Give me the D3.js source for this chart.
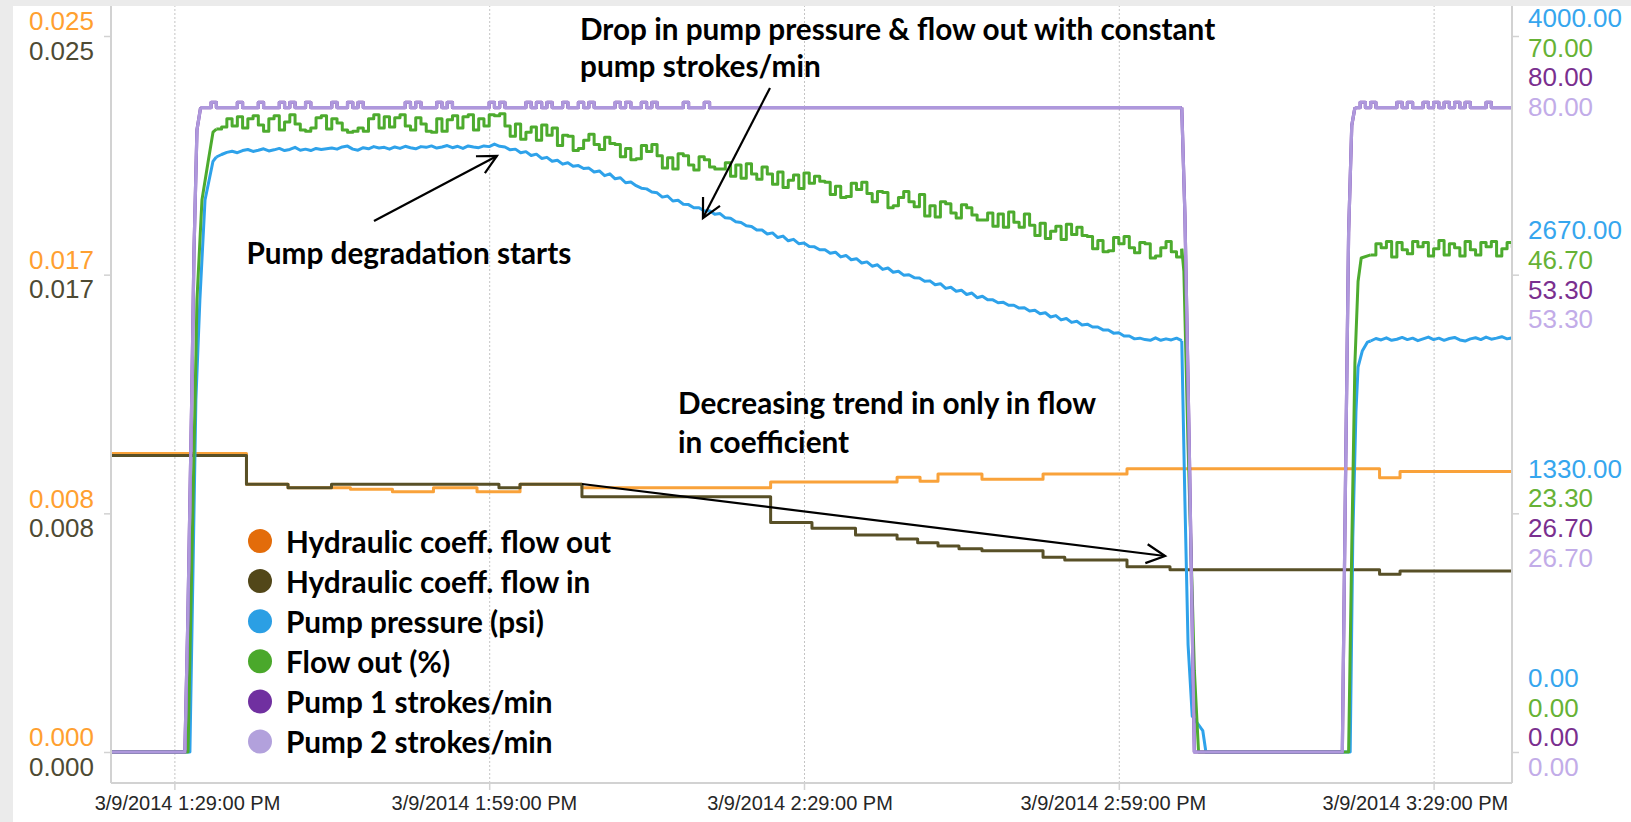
<!DOCTYPE html>
<html><head><meta charset="utf-8">
<script src="https://cdn.jsdelivr.net/npm/d3@7"></script>
<style>
html,body{margin:0;padding:0;background:#ebebeb;}
svg{display:block;}
</style></head>
<body>
<svg id="chart" width="1631" height="822"></svg>
<script>
// ================= DATA =================
// time is expressed in minutes after 3/9/2014 1:00:00 PM
const baseDate = new Date(2014, 2, 9, 13, 0, 0);
const xDomainMinutes = [22.96, 156.47];
const xTickMinutes = [29, 59, 89, 119, 149];
const SAMPLE_STEP = 0.5; // minutes between samples of the "run" arrays

// axis ticks
const coefTicks = [0, 0.008333, 0.016667, 0.025];
const coefTickLabels = ["0.000", "0.008", "0.017", "0.025"];
const pressureTicks = [0, 1333.33, 2666.67, 4000];
const pressureTickLabels = ["0.00", "1330.00", "2670.00", "4000.00"];
const flowTicks = [0, 23.33, 46.67, 70];
const flowTickLabels = ["0.00", "23.30", "46.70", "70.00"];
const strokeTicks = [0, 26.67, 53.33, 80];
const strokeTickLabels = ["0.00", "26.70", "53.30", "80.00"];

// Hydraulic coefficient steps [minute, value]
const coeffOutSteps = [[22.96,0.01042],[35.87,0.00935],[39.83,0.00923],[45.78,0.00917],[49.78,0.00909],[53.69,0.00923],[57.84,0.00909],[61.94,0.00935],[67.84,0.00923],[85.82,0.00943],[97.87,0.00959],[100.06,0.00945],[101.77,0.00971],[105.96,0.00952],[111.78,0.00971],[119.78,0.00989],[143.85,0.00958],[145.80,0.00979],[156.47,0.00979]];
const coeffInSteps = [[22.96,0.01035],[35.87,0.00935],[39.83,0.00923],[43.97,0.00935],[59.93,0.00923],[61.94,0.00935],[67.84,0.00891],[85.82,0.00801],[89.76,0.00781],[93.91,0.00758],[97.87,0.00744],[99.83,0.00731],[101.77,0.00719],[103.77,0.00710],[105.96,0.00703],[111.78,0.00680],[113.85,0.00670],[119.78,0.00647],[123.88,0.00636],[143.85,0.00621],[145.80,0.00632],[156.47,0.00632]];

// Pump pressure (psi)
const pressureRise1 = [[22.96,0],[30.48,0],[31.05,1967],[31.43,2525],[31.92,3084],[32.68,3300]];
const pressureRun1Start = 33.0;
const pressureRun1 = [
3324,3338,3350,3356,3348,3360,3366,3355,3362,3370,
3358,3364,3372,3360,3366,3378,3362,3368,3360,3372,
3366,3370,3374,3368,3380,3385,3368,3362,3376,3370,
3382,3374,3378,3368,3380,3372,3384,3376,3370,3382,
3378,3386,3374,3380,3388,3376,3384,3372,3386,3380,
3376,3386,3382,3396,3384,3380,3364,3368,3348,3354,
3332,3340,3316,3322,3300,3306,3284,3292,3272,3276,
3260,3262,3240,3246,3220,3230,3202,3208,3180,3184,
3164,3150,3146,3128,3124,3100,3106,3078,3082,3060,
3058,3040,3040,3022,3024,3004,3008,2984,2982,2962,
2958,2940,2936,2916,2916,2894,2900,2874,2882,2856,
2864,2840,2844,2824,2822,2806,2806,2786,2792,2766,
2774,2750,2756,2732,2738,2714,2722,2696,2704,2680,
2686,2664,2666,2650,2648,2630,2632,2610,2616,2590,
2596,2574,2580,2556,2564,2538,2546,2526,2526,2510,
2512,2496,2496,2480,2482,2464,2468,2448,2454,2430,
2438,2414,2422,2400,2406,2386,2390,2374,2374,2358,
2358,2340,2342,2324,2324,2308,2312,2304,2300,2314,
2300,2308,2302,2312,2298];
const pressureFall = [[125.3,1400],[125.6,600],[126.0,200],[126.5,160],[127.0,120],[127.3,0],[141.05,0],[141.3,1200],[141.6,1900],[141.8,2150],[142.2,2240],[142.7,2290]];
const pressureRun2Start = 143.0;
const pressureRun2 = [2296,2310,2302,2314,2300,2306,2316,2304,2312,2298,
2308,2318,2304,2312,2300,2310,2316,2302,2296,2308,
2314,2304,2318,2306,2312,2320,2308,2314];

// Flow out (%)
const flowRise1 = [[22.96,0],[30.30,0],[30.97,34.4],[31.15,44.2],[31.63,54.0],[32.2,57.6],[32.68,60.6]];
const flowRun1Start = 33.0;
const flowRun1 = [
60.9,61.1,61.9,61.2,62.1,61.0,61.9,62.2,61.3,60.7,
61.9,62.2,60.8,61.6,62.3,61.4,60.8,60.7,61.0,62.0,
62.2,60.9,61.9,61.5,60.8,60.6,60.7,61.0,60.7,61.9,
62.3,61.0,62.1,61.1,62.0,62.3,61.2,60.8,62.0,61.4,
60.7,60.6,61.9,60.7,61.8,62.2,61.0,62.1,62.3,60.8,
61.9,61.2,62.3,62.2,62.4,
61.2,60.2,61.4,59.9,60.6,61.1,59.8,61.3,60.3,61.0,
59.3,60.3,60.2,58.8,59.0,59.8,60.4,59.4,58.9,60.1,
59.5,59.4,58.2,59.0,57.9,58.0,59.3,58.7,59.4,58.3,
57.1,58.1,57.0,58.5,58.3,57.4,56.9,58.2,57.9,57.2,
57.0,57.0,57.6,56.3,57.4,56.1,57.5,56.5,56.0,57.2,
56.5,55.5,56.7,55.2,55.9,56.4,55.1,56.6,55.6,56.3,
55.8,55.7,54.5,55.3,54.2,54.3,55.6,55.0,55.7,54.6,
53.8,54.8,54.7,53.2,53.4,54.2,54.8,53.8,53.3,54.5,
52.4,53.4,52.3,53.8,53.6,52.7,52.2,53.5,53.2,52.5,
52.0,52.0,52.7,51.4,52.6,51.3,52.8,51.8,51.3,52.6,
51.5,50.5,51.7,50.2,50.9,51.4,50.1,51.6,50.6,51.3,
50.5,50.4,49.2,50.0,48.9,49.0,50.3,49.7,50.4,49.3,
48.8,49.8,49.7,48.3,48.5,49.3,49.9,48.9,48.4,49.2];
const flowFall = [[125.2,47.0],[125.6,30.0],[126.2,8.0],[126.6,0],[140.9,0],[141.2,20],[141.5,38],[141.8,46],[142.1,48.3]];
const flowRun2Start = 143.0;
const flowRun2 = [48.6,49.7,49.3,49.9,48.4,49.8,49.1,48.7,49.9,49.4,
49.8,48.5,49.2,50.0,48.6,49.7,49.3,48.5,49.9,49.1,
48.6,49.8,49.4,49.9,48.5,49.2,49.8,49.3];

// Pump strokes/min (pump 1 and pump 2 read identical; pump 2 drawn on top)
const strokesRise1 = [[22.96,0],[30.0,0],[30.28,14.7],[30.65,39.3],[30.87,56.0],[31.15,69.5]];
const strokesRun1Start = 31.5;
const strokesRun1 = [
72,72,72.6,72,72,72,72,72.6,72,72,
72,72.6,72,72,72,72.6,72,72.6,72,72,
72.6,72,72,72,72,72.6,72,72,72.6,72,
72.6,72,72,72,72,72,72,72,72,72.6,
72,72.6,72,72,72,72.6,72,72.6,72,72,
72,72,72,72,72,72.6,72,72.6,72,72,
72,72,72.6,72,72.6,72,72.6,72,72,72.6,
72,72,72.6,72,72.6,72,72,72,72,72.6,
72,72.6,72,72,72.6,72,72.6,72,72,72,
72,72,72.6,72,72,72,72.6,72,72,72,
72,72,72,72,72,72,72,72,72,72,
72,72,72,72,72,72,72,72,72,72,
72,72,72,72,72,72,72,72,72,72,
72,72,72,72,72,72,72,72,72,72,
72,72,72,72,72,72,72,72,72,72,
72,72,72,72,72,72,72,72,72,72,
72,72,72,72,72,72,72,72,72,72,
72,72,72,72,72,72,72,72,72,72,
72,72,72,72,72,72,72,72];
const strokesFall = [[125.3,60],[125.7,35],[126.2,0],[140.3,0],[140.6,30],[140.9,58],[141.2,70]];
const strokesRun2Start = 141.5;
const strokesRun2 = [72,72.6,72,72.6,72,72,72,72,72.6,72,
72.6,72,72,72.6,72,72.6,72,72.6,72,72.6,
72,72.6,72,72,72,72.6,72,72,72,72,
72];

// legend
const legendLabels = ["Hydraulic coeff. flow out","Hydraulic coeff. flow in","Pump pressure (psi)","Flow out (%)","Pump 1 strokes/min","Pump 2 strokes/min"];
const legendColors = ["#E36C0A","#524719","#2B9FE4","#4AA82B","#7030A0","#B2A1DC"];

// annotations
const annotationTexts = [
  ["Drop in pump pressure & flow out with constant", 580, 28],
  ["pump strokes/min", 580, 65.5],
  ["Pump degradation starts", 246.5, 252],
  ["Decreasing trend in only in flow", 678, 402.6],
  ["in coefficient", 678, 441]
];
// arrows anchored in data space: [scaleName, fromMinute, fromValue, toMinute, toValue]
const annotationArrows = [
  ["pressure", 48.02, 2966, 59.74, 3330],
  ["pressure", 85.76, 3710, 79.37, 2983],
  ["coef", 67.85, 0.009358, 123.41, 0.006844]
];

// ================= CHART =================
const W = 1631, H = 822;
const plot = {left: 111, right: 1512, top: 6, bottom: 783};
const xLabelShift = [12.6, -5.3, -4.5, -6, -18.7]; // label placement offsets (px)
const svg = d3.select("#chart");
svg.append("rect").attr("width", W).attr("height", H).attr("fill", "#ebebeb");
svg.append("rect").attr("x", 13).attr("y", 6).attr("width", W - 13).attr("height", H - 6).attr("fill", "#ffffff");

const toDate = m => new Date(baseDate.getTime() + m * 60000);
const x = d3.scaleTime().domain(xDomainMinutes.map(toDate)).range([plot.left, plot.right]);
const yCoef = d3.scaleLinear().domain([0, 0.025]).range([752, 36]);
const yPress = d3.scaleLinear().domain([0, 4000]).range([752, 36]);
const yFlow = d3.scaleLinear().domain([0, 70]).range([752, 36]);
const yStroke = d3.scaleLinear().domain([0, 80]).range([752, 36]);

svg.append("defs").append("clipPath").attr("id", "clip")
  .append("rect").attr("x", plot.left).attr("y", plot.top)
  .attr("width", plot.right - plot.left).attr("height", plot.bottom - plot.top);

// vertical dotted gridlines
svg.append("g").attr("transform", `translate(0,${plot.bottom})`)
  .call(d3.axisBottom(x).tickValues(xTickMinutes.map(toDate))
    .tickSize(-(plot.bottom - plot.top)).tickSizeOuter(0).tickFormat(""))
  .call(g => {
    g.select(".domain").remove();
    g.selectAll(".tick line").attr("stroke", "#c4c4c4").attr("stroke-width", 1).attr("stroke-dasharray", "2,2");
  });

// series helpers
const runPts = (start, vals) => vals.map((v, i) => [start + i * SAMPLE_STEP, v]);
function drawPath(points, yScale, color, width, curve) {
  const line = d3.line().x(d => x(toDate(d[0]))).y(d => yScale(d[1])).curve(curve);
  series.append("path").attr("d", line(points))
    .attr("fill", "none").attr("stroke", color).attr("stroke-width", width)
    .attr("stroke-linejoin", "round").attr("stroke-linecap", "butt");
}
function drawRunSeries(rise, run1Start, run1, fall, run2Start, run2, yScale, color, width, runCurve) {
  const r1 = runPts(run1Start, run1), r2 = runPts(run2Start, run2);
  drawPath([...rise, r1[0]], yScale, color, width, d3.curveLinear);
  drawPath(r1, yScale, color, width, runCurve);
  drawPath([r1[r1.length - 1], ...fall, r2[0]], yScale, color, width, d3.curveLinear);
  drawPath(r2, yScale, color, width, runCurve);
}

const series = svg.append("g").attr("clip-path", "url(#clip)");
drawPath(coeffOutSteps, yCoef, "#F9A23A", 3, d3.curveStepAfter);
drawPath(coeffInSteps, yCoef, "#585027", 3, d3.curveStepAfter);
drawRunSeries(pressureRise1, pressureRun1Start, pressureRun1, pressureFall, pressureRun2Start, pressureRun2, yPress, "#2EA2EA", 3, d3.curveLinear);
drawRunSeries(flowRise1, flowRun1Start, flowRun1, flowFall, flowRun2Start, flowRun2, yFlow, "#4DAB2E", 3, d3.curveStepAfter);
drawRunSeries(strokesRise1, strokesRun1Start, strokesRun1, strokesFall, strokesRun2Start, strokesRun2, yStroke, "#7030A0", 3.2, d3.curveStepAfter);
drawRunSeries(strokesRise1, strokesRun1Start, strokesRun1, strokesFall, strokesRun2Start, strokesRun2, yStroke, "#AE98DC", 3.2, d3.curveStepAfter);

// axes
const axisColor = "#d2d2d2";
svg.append("g").attr("transform", `translate(${plot.left},0)`)
  .call(d3.axisLeft(yCoef).tickValues(coefTicks).tickSize(7).tickSizeOuter(0).tickFormat(""))
  .call(g => { g.select(".domain").remove(); g.selectAll(".tick line").attr("stroke", axisColor).attr("stroke-width", 1.5); });
svg.append("g").attr("transform", `translate(${plot.right},0)`)
  .call(d3.axisRight(yPress).tickValues(pressureTicks).tickSize(7).tickSizeOuter(0).tickFormat(""))
  .call(g => { g.select(".domain").remove(); g.selectAll(".tick line").attr("stroke", axisColor).attr("stroke-width", 1.5); });
svg.append("g").attr("transform", `translate(0,${plot.bottom})`)
  .call(d3.axisBottom(x).tickValues(xTickMinutes.map(toDate)).tickSize(7).tickSizeOuter(0)
    .tickFormat(d3.timeFormat("%-m/%-d/%Y %-I:%M:%S %p")))
  .call(g => {
    g.select(".domain").remove();
    g.selectAll(".tick line").attr("stroke", axisColor).attr("stroke-width", 1.5);
    g.selectAll(".tick text").attr("y", 27).attr("dy", null)
      .attr("x", (d, i) => xLabelShift[i])
      .attr("font-family", "'Liberation Sans', Arial, sans-serif").attr("font-size", 20).attr("fill", "#262626");
  });
svg.append("line").attr("x1", plot.left).attr("x2", plot.left).attr("y1", plot.top).attr("y2", plot.bottom).attr("stroke", axisColor).attr("stroke-width", 2);
svg.append("line").attr("x1", plot.right).attr("x2", plot.right).attr("y1", plot.top).attr("y2", plot.bottom).attr("stroke", axisColor).attr("stroke-width", 2);
svg.append("line").attr("x1", plot.left).attr("x2", plot.right).attr("y1", plot.bottom).attr("y2", plot.bottom).attr("stroke", axisColor).attr("stroke-width", 2);

// left tick labels: orange (flow out coeff) above, olive (flow in coeff) below
const labelFont = "'Liberation Sans', Arial, sans-serif";
const leftColors = ["#FFA030", "#4E4A33"];
coefTicks.forEach((t, i) => {
  const yc = yCoef(t);
  leftColors.forEach((c, j) => {
    svg.append("text").attr("x", 94).attr("y", yc + (j === 0 ? -14.75 : 14.75))
      .attr("text-anchor", "end").attr("dominant-baseline", "central")
      .attr("font-family", labelFont).attr("font-size", 26).attr("fill", c)
      .text(coefTickLabels[i]);
  });
});

// right tick labels: stacked groups, clamped inside the panel
const rightGroups = [
  [pressureTicks, pressureTickLabels, yPress, "#36A6EE"],
  [flowTicks, flowTickLabels, yFlow, "#66B235"],
  [strokeTicks, strokeTickLabels, yStroke, "#7A2F8F"],
  [strokeTicks, strokeTickLabels, yStroke, "#C2ACE8"]
];
const lineGap = 29.7;
pressureTicks.forEach((_, i) => {
  const yc = yPress(pressureTicks[i]);
  let top = yc - 2 * lineGap;
  top = Math.max(3, Math.min(top, 782 - 4 * lineGap));
  rightGroups.forEach((grp, j) => {
    svg.append("text").attr("x", 1528).attr("y", top + lineGap * (j + 0.5))
      .attr("dominant-baseline", "central")
      .attr("font-family", labelFont).attr("font-size", 26).attr("fill", grp[3])
      .text(grp[1][i]);
  });
});

// bold annotation font fitted to reference width
const annFont = "Lato, 'Open Sans', sans-serif";
const probe = svg.append("text").attr("font-family", annFont).attr("font-weight", 700).attr("font-size", 100).text("Pump degradation starts");
const annSize = 100 * 325 / probe.node().getComputedTextLength();
probe.remove();

// legend
legendLabels.forEach((lab, i) => {
  const yc = 541 + i * 40.1;
  svg.append("circle").attr("cx", 260).attr("cy", yc).attr("r", 12).attr("fill", legendColors[i]);
  svg.append("text").attr("x", 286).attr("y", yc).attr("dominant-baseline", "central")
    .attr("font-family", annFont).attr("font-weight", 700).attr("font-size", annSize).attr("fill", "#000")
    .text(lab);
});

// annotations
annotationTexts.forEach(([txt, ax, ay]) => {
  svg.append("text").attr("x", ax).attr("y", ay).attr("dominant-baseline", "central")
    .attr("font-family", annFont).attr("font-weight", 700).attr("font-size", annSize).attr("fill", "#000")
    .text(txt);
});
const scalesByName = {pressure: yPress, coef: yCoef};
annotationArrows.forEach(([s, m1, v1, m2, v2]) => {
  const ys = scalesByName[s];
  const x1 = x(toDate(m1)), y1 = ys(v1), x2 = x(toDate(m2)), y2 = ys(v2);
  svg.append("line").attr("x1", x1).attr("y1", y1).attr("x2", x2).attr("y2", y2)
    .attr("stroke", "#000").attr("stroke-width", 2.2);
  const a = Math.atan2(y2 - y1, x2 - x1), L = 21, spread = 27 * Math.PI / 180;
  const w1 = [x2 - L * Math.cos(a - spread), y2 - L * Math.sin(a - spread)];
  const w2 = [x2 - L * Math.cos(a + spread), y2 - L * Math.sin(a + spread)];
  svg.append("polyline").attr("points", [w1, [x2, y2], w2].map(p => p.join(",")).join(" "))
    .attr("fill", "none").attr("stroke", "#000").attr("stroke-width", 2.2).attr("stroke-linejoin", "miter");
});
</script>
</body></html>
